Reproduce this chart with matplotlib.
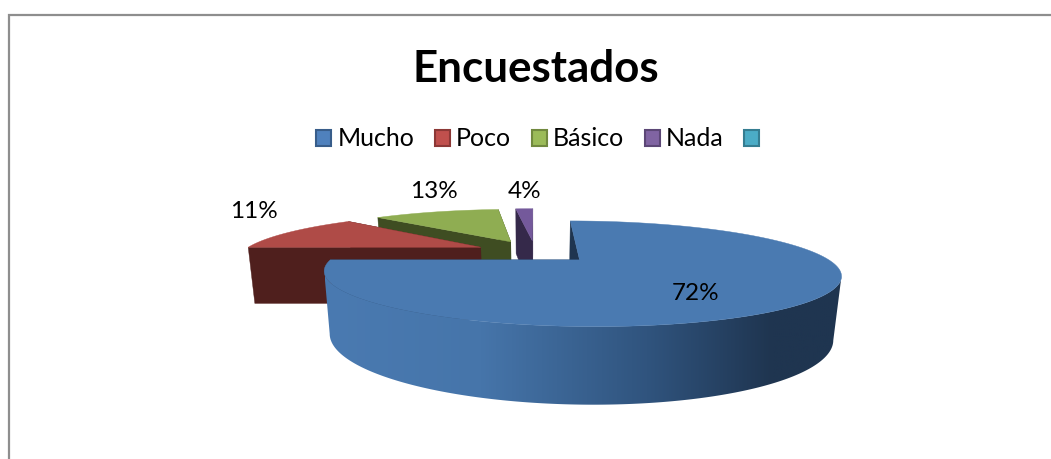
import numpy as np
import matplotlib
matplotlib.use("Agg")
import matplotlib.pyplot as plt
from matplotlib.colors import LinearSegmentedColormap
from matplotlib.patches import Patch, Polygon

plt.rcParams['font.family'] = ['Lato', 'DejaVu Sans']

title = "Encuestados"
categories = ["Mucho", "Poco", "Básico", "Nada", ""]
pct_labels = ["72%", "11%", "13%", "4%"]
# the slices are not drawn to their printed labels, these are the shares as seen in the picture
drawn_shares = [75.0, 12.5, 11.0, 1.5]

legend_colors = ["#4F81BD", "#C0504D", "#9BBB59", "#8064A2", "#4BACC6"]
legend_edges = ["#385D8A", "#8C3836", "#71893F", "#5C4776", "#357D91"]
top_colors = ["#4A7AB1", "#AF4B47", "#8FAD52", "#74599B"]
wall_colors = ["#1F3550", "#4F1F1D", "#3F4D22", "#35294A"]
label_pos = [(696, 292), (254, 210), (434, 190), (525, 190)]

# camera for the fake 3d pie
cam = 3.71
focal = 950
tilt = 179
drop = 218
drop_depth = 0.09
x0, y0 = 535, 251.5
radius = 0.93
explode = 0.235
start_angle = 0


def project(X, Y, Z=0.0):
    w = cam + Y + drop_depth * Z
    return x0 + focal * X / w, y0 + (-tilt * Y + drop * Z) / w


def slice_point(apex, ang, r=radius, Z=0.0):
    a = np.radians(ang)
    return project(apex[0] + r * np.sin(a), apex[1] + r * np.cos(a), Z)


def wall(ax, apex, ang, color, z):
    pts = [slice_point(apex, ang, 0), slice_point(apex, ang),
           slice_point(apex, ang, radius, 1), slice_point(apex, ang, 0, 1)]
    ax.add_patch(Polygon(pts, closed=True, fc=color, ec=color, lw=0.3, zorder=z))


fig = plt.figure(figsize=(10.51, 4.59), dpi=100)
ax = fig.add_axes([0, 0, 1, 1])
ax.set_xlim(0, 1051)
ax.set_ylim(459, 0)
ax.axis("off")

# chart frame
ax.plot([9, 9, 1051], [459, 14.5, 14.5], color="#8E8E8E", lw=1.6, solid_joinstyle="miter")

ax.text(535.5, 69, title, fontsize=31.6, fontweight="bold", ha="center", va="center", color="black")

edges = start_angle + np.concatenate([[0], np.cumsum(drawn_shares)]) * 3.6

# purple first, blue last so the front slice covers the others
for i in [3, 2, 1, 0]:
    a0, a1 = edges[i], edges[i + 1]
    mid = np.radians((a0 + a1) / 2)
    apex = (explode * np.sin(mid), explode * np.cos(mid))
    z = 10 - i

    wall(ax, apex, a1, wall_colors[i], z)
    wall(ax, apex, a0, wall_colors[i], z)

    angs = np.linspace(a0, a1, 400)
    if i == 0:
        # outer rim with the shading from left to right, only between the two silhouette points
        xs = np.array([slice_point(apex, a)[0] for a in angs])
        rim = angs[np.argmax(xs):np.argmin(xs) + 1]
        top_rim = [slice_point(apex, a) for a in rim]
        low_rim = [slice_point(apex, a, radius, 1) for a in rim[::-1]]
        rim_patch = Polygon(top_rim + low_rim, closed=True, fc="none", ec="none", zorder=z)
        ax.add_patch(rim_patch)
        cmap = LinearSegmentedColormap.from_list(
            "rim", [(0, "#4A7AB1"), (0.3, "#4675AA"), (0.62, "#30547E"), (0.86, "#1F3550"), (1, "#1F3550")])
        im = ax.imshow(np.linspace(0, 1, 256).reshape(1, -1), cmap=cmap, aspect="auto",
                       extent=[325, 845, 420, 250], zorder=z)
        im.set_clip_path(rim_patch)
        ax.set_xlim(0, 1051)
        ax.set_ylim(459, 0)

    pts = [slice_point(apex, a0, 0)] + [slice_point(apex, a) for a in angs]
    ax.add_patch(Polygon(pts, closed=True, fc=top_colors[i], ec=top_colors[i], lw=0.3, zorder=z + 0.5))

for lab, pos in zip(pct_labels, label_pos):
    ax.text(pos[0], pos[1] + 2, lab, fontsize=17.5, ha="center", va="center", color="black", zorder=20)

handles = [Patch(fc=c, ec=e, lw=1.5) for c, e in zip(legend_colors, legend_edges)]
ax.legend(handles, categories, ncol=5, frameon=False, fontsize=18,
          loc="center", bbox_to_anchor=(541 / 1051, 1 - 139 / 459),
          handlelength=0.6, handleheight=0.6, handletextpad=0.25, columnspacing=0.82)

fig.savefig("out.png", dpi=100)
